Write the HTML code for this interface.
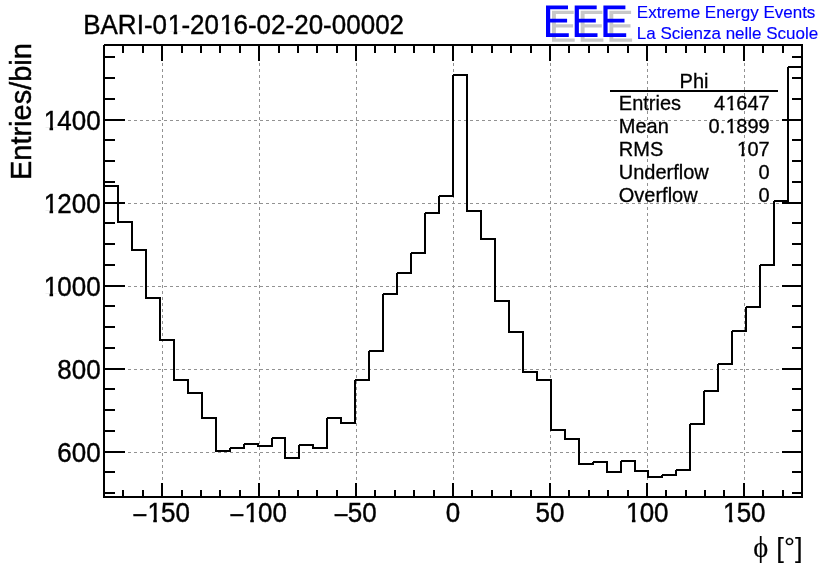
<!DOCTYPE html>
<html><head><meta charset="utf-8"><title>BARI-01-2016-02-20-00002</title>
<style>html,body{margin:0;padding:0;background:#fff;}body{width:836px;height:572px;overflow:hidden;}svg{display:block;will-change:transform;}text{font-family:"Liberation Sans",sans-serif;}.ser{font-family:"Liberation Serif",serif;}</style>
</head><body>
<svg width="836" height="572" viewBox="0 0 836 572">
<rect x="0" y="0" width="836" height="572" fill="#ffffff"/>
<g shape-rendering="crispEdges" stroke="#929292" stroke-width="1" stroke-dasharray="3,3" fill="none">
<line x1="162.5" y1="45" x2="162.5" y2="497"/>
<line x1="259.5" y1="45" x2="259.5" y2="497"/>
<line x1="356.5" y1="45" x2="356.5" y2="497"/>
<line x1="453.5" y1="45" x2="453.5" y2="497"/>
<line x1="550.5" y1="45" x2="550.5" y2="497"/>
<line x1="647.5" y1="45" x2="647.5" y2="497"/>
<line x1="744.5" y1="45" x2="744.5" y2="497"/>
<line x1="104" y1="452.5" x2="802" y2="452.5"/>
<line x1="104" y1="369.5" x2="802" y2="369.5"/>
<line x1="104" y1="286.5" x2="802" y2="286.5"/>
<line x1="104" y1="203.5" x2="802" y2="203.5"/>
<line x1="104" y1="120.5" x2="802" y2="120.5"/>
</g>
<path d="M104,497V186H118V222H132V250H146V298H160V340H174V380H188V393H202V418H216V451H230V448H244V444H258V446H272V438H285V458H299V445H313V448H327V418H341V423H355V380H369V351H383V294H397V273H411V253H425V213H439V196H453V75H467V211H481V239H495V301H509V332H523V372H537V380H551V430H565V439H579V464H593V462H607V472H621V461H635V471H648V477H662V475H676V470H690V424H704V391H718V364H732V331H746V307H760V265H774V201H788V67H802V497" fill="none" stroke="#000" stroke-width="2" stroke-linejoin="miter" shape-rendering="crispEdges"/>
<path d="M229,447h1v1h-1zM243,443h1v1h-1zM271,437h1v1h-1zM298,444h1v1h-1zM326,417h1v1h-1zM354,379h1v1h-1zM368,350h1v1h-1zM382,293h1v1h-1zM396,272h1v1h-1zM410,252h1v1h-1zM424,212h1v1h-1zM438,195h1v1h-1zM452,74h1v1h-1zM592,461h1v1h-1zM620,460h1v1h-1zM661,474h1v1h-1zM675,469h1v1h-1zM689,423h1v1h-1zM703,390h1v1h-1zM717,363h1v1h-1zM731,330h1v1h-1zM745,306h1v1h-1zM759,264h1v1h-1zM773,200h1v1h-1zM787,66h1v1h-1z" fill="#fff" shape-rendering="crispEdges"/>
<g shape-rendering="crispEdges" fill="#000">
<rect x="103" y="44" width="700" height="2"/>
<rect x="103" y="496" width="700" height="2"/>
<rect x="103" y="44" width="2" height="454"/>
<rect x="801" y="44" width="2" height="454"/>
<rect x="122" y="490" width="2" height="7"/>
<rect x="122" y="45" width="2" height="8"/>
<rect x="142" y="490" width="2" height="7"/>
<rect x="142" y="45" width="2" height="8"/>
<rect x="161" y="483" width="2" height="14"/>
<rect x="161" y="45" width="2" height="16"/>
<rect x="181" y="490" width="2" height="7"/>
<rect x="181" y="45" width="2" height="8"/>
<rect x="200" y="490" width="2" height="7"/>
<rect x="200" y="45" width="2" height="8"/>
<rect x="219" y="490" width="2" height="7"/>
<rect x="219" y="45" width="2" height="8"/>
<rect x="239" y="490" width="2" height="7"/>
<rect x="239" y="45" width="2" height="8"/>
<rect x="258" y="483" width="2" height="14"/>
<rect x="258" y="45" width="2" height="16"/>
<rect x="278" y="490" width="2" height="7"/>
<rect x="278" y="45" width="2" height="8"/>
<rect x="297" y="490" width="2" height="7"/>
<rect x="297" y="45" width="2" height="8"/>
<rect x="316" y="490" width="2" height="7"/>
<rect x="316" y="45" width="2" height="8"/>
<rect x="336" y="490" width="2" height="7"/>
<rect x="336" y="45" width="2" height="8"/>
<rect x="355" y="483" width="2" height="14"/>
<rect x="355" y="45" width="2" height="16"/>
<rect x="374" y="490" width="2" height="7"/>
<rect x="374" y="45" width="2" height="8"/>
<rect x="394" y="490" width="2" height="7"/>
<rect x="394" y="45" width="2" height="8"/>
<rect x="413" y="490" width="2" height="7"/>
<rect x="413" y="45" width="2" height="8"/>
<rect x="433" y="490" width="2" height="7"/>
<rect x="433" y="45" width="2" height="8"/>
<rect x="452" y="483" width="2" height="14"/>
<rect x="452" y="45" width="2" height="16"/>
<rect x="471" y="490" width="2" height="7"/>
<rect x="471" y="45" width="2" height="8"/>
<rect x="491" y="490" width="2" height="7"/>
<rect x="491" y="45" width="2" height="8"/>
<rect x="510" y="490" width="2" height="7"/>
<rect x="510" y="45" width="2" height="8"/>
<rect x="530" y="490" width="2" height="7"/>
<rect x="530" y="45" width="2" height="8"/>
<rect x="549" y="483" width="2" height="14"/>
<rect x="549" y="45" width="2" height="16"/>
<rect x="568" y="490" width="2" height="7"/>
<rect x="568" y="45" width="2" height="8"/>
<rect x="588" y="490" width="2" height="7"/>
<rect x="588" y="45" width="2" height="8"/>
<rect x="607" y="490" width="2" height="7"/>
<rect x="607" y="45" width="2" height="8"/>
<rect x="627" y="490" width="2" height="7"/>
<rect x="627" y="45" width="2" height="8"/>
<rect x="646" y="483" width="2" height="14"/>
<rect x="646" y="45" width="2" height="16"/>
<rect x="665" y="490" width="2" height="7"/>
<rect x="665" y="45" width="2" height="8"/>
<rect x="685" y="490" width="2" height="7"/>
<rect x="685" y="45" width="2" height="8"/>
<rect x="704" y="490" width="2" height="7"/>
<rect x="704" y="45" width="2" height="8"/>
<rect x="723" y="490" width="2" height="7"/>
<rect x="723" y="45" width="2" height="8"/>
<rect x="743" y="483" width="2" height="14"/>
<rect x="743" y="45" width="2" height="16"/>
<rect x="762" y="490" width="2" height="7"/>
<rect x="762" y="45" width="2" height="8"/>
<rect x="782" y="490" width="2" height="7"/>
<rect x="782" y="45" width="2" height="8"/>
<rect x="104" y="492" width="11" height="2"/>
<rect x="792" y="492" width="10" height="2"/>
<rect x="104" y="471" width="11" height="2"/>
<rect x="792" y="471" width="10" height="2"/>
<rect x="104" y="451" width="21" height="2"/>
<rect x="782" y="451" width="20" height="2"/>
<rect x="104" y="430" width="11" height="2"/>
<rect x="792" y="430" width="10" height="2"/>
<rect x="104" y="409" width="11" height="2"/>
<rect x="792" y="409" width="10" height="2"/>
<rect x="104" y="388" width="11" height="2"/>
<rect x="792" y="388" width="10" height="2"/>
<rect x="104" y="368" width="21" height="2"/>
<rect x="782" y="368" width="20" height="2"/>
<rect x="104" y="347" width="11" height="2"/>
<rect x="792" y="347" width="10" height="2"/>
<rect x="104" y="326" width="11" height="2"/>
<rect x="792" y="326" width="10" height="2"/>
<rect x="104" y="305" width="11" height="2"/>
<rect x="792" y="305" width="10" height="2"/>
<rect x="104" y="285" width="21" height="2"/>
<rect x="782" y="285" width="20" height="2"/>
<rect x="104" y="264" width="11" height="2"/>
<rect x="792" y="264" width="10" height="2"/>
<rect x="104" y="243" width="11" height="2"/>
<rect x="792" y="243" width="10" height="2"/>
<rect x="104" y="222" width="11" height="2"/>
<rect x="792" y="222" width="10" height="2"/>
<rect x="104" y="202" width="21" height="2"/>
<rect x="782" y="202" width="20" height="2"/>
<rect x="104" y="181" width="11" height="2"/>
<rect x="792" y="181" width="10" height="2"/>
<rect x="104" y="160" width="11" height="2"/>
<rect x="792" y="160" width="10" height="2"/>
<rect x="104" y="139" width="11" height="2"/>
<rect x="792" y="139" width="10" height="2"/>
<rect x="104" y="119" width="21" height="2"/>
<rect x="782" y="119" width="20" height="2"/>
<rect x="104" y="98" width="11" height="2"/>
<rect x="792" y="98" width="10" height="2"/>
<rect x="104" y="77" width="11" height="2"/>
<rect x="792" y="77" width="10" height="2"/>
<rect x="104" y="56" width="11" height="2"/>
<rect x="792" y="56" width="10" height="2"/>
</g>
<rect x="103" y="44" width="1" height="1" fill="#fff" shape-rendering="crispEdges"/>
<g transform="translate(100.7,462.4) scale(1,1.035)" font-size="26" fill="#000" stroke="#000" stroke-width="0.39">
<text x="-43.38 -28.92 -14.46" y="0.00 0.00 0.00">600</text>
</g>
<g transform="translate(100.7,379.4) scale(1,1.035)" font-size="26" fill="#000" stroke="#000" stroke-width="0.39">
<text x="-43.38 -28.92 -14.46" y="0.00 0.00 0.00">800</text>
</g>
<g transform="translate(100.7,296.4) scale(1,1.035)" font-size="26" fill="#000" stroke="#000" stroke-width="0.39">
<text x="-43.38 -28.92 -14.46" y="0.00 0.00 0.00">000</text>
<g transform="translate(-57.06,0.00)"><text clip-path="url(#c26)">1</text></g>
</g>
<g transform="translate(100.7,213.4) scale(1,1.035)" font-size="26" fill="#000" stroke="#000" stroke-width="0.39">
<text x="-43.38 -28.92 -14.46" y="0.00 0.00 0.00">200</text>
<g transform="translate(-57.06,0.00)"><text clip-path="url(#c26)">1</text></g>
</g>
<g transform="translate(100.7,130.4) scale(1,1.035)" font-size="26" fill="#000" stroke="#000" stroke-width="0.39">
<text x="-43.38 -28.92 -14.46" y="0.00 0.00 0.00">400</text>
<g transform="translate(-57.06,0.00)"><text clip-path="url(#c26)">1</text></g>
</g>
<g transform="translate(161.5,522.3) scale(1,1.035)" font-size="26" fill="#000" stroke="#000" stroke-width="0.39">
<text x="-28.98 -0.44 14.02" y="2.00 0.00 0.00">−50</text>
<g transform="translate(-14.12,0.00)"><text clip-path="url(#c26)">1</text></g>
</g>
<g transform="translate(258.5,522.3) scale(1,1.035)" font-size="26" fill="#000" stroke="#000" stroke-width="0.39">
<text x="-28.98 -0.44 14.02" y="2.00 0.00 0.00">−00</text>
<g transform="translate(-14.12,0.00)"><text clip-path="url(#c26)">1</text></g>
</g>
<g transform="translate(355.5,522.3) scale(1,1.035)" font-size="26" fill="#000" stroke="#000" stroke-width="0.39">
<text x="-21.75 -7.67 6.79" y="2.00 0.00 0.00">−50</text>
</g>
<g transform="translate(452.9,522.3) scale(1,1.035)" font-size="26" fill="#000" stroke="#000" stroke-width="0.39">
<text x="-7.23" y="0.00">0</text>
</g>
<g transform="translate(549.9,522.3) scale(1,1.035)" font-size="26" fill="#000" stroke="#000" stroke-width="0.39">
<text x="-14.46 0.00" y="0.00 0.00">50</text>
</g>
<g transform="translate(646.9,522.3) scale(1,1.035)" font-size="26" fill="#000" stroke="#000" stroke-width="0.39">
<text x="-7.23 7.23" y="0.00 0.00">00</text>
<g transform="translate(-20.91,0.00)"><text clip-path="url(#c26)">1</text></g>
</g>
<g transform="translate(743.9,522.3) scale(1,1.035)" font-size="26" fill="#000" stroke="#000" stroke-width="0.39">
<text x="-7.23 7.23" y="0.00 0.00">50</text>
<g transform="translate(-20.91,0.00)"><text clip-path="url(#c26)">1</text></g>
</g>
<g transform="translate(83.2,34.4) scale(1,1.035)" font-size="26" fill="#000" stroke="#000" stroke-width="0.39">
<text x="0.00 17.34 34.68 53.46 60.68 69.34 98.26 106.92 121.38 150.30 164.76 173.42 187.88 202.34 211.00 225.46 239.92 248.57 263.03 277.49 291.95 306.41" y="0.00 0.00 0.00 0.00 0.00 0.00 0.00 0.00 0.00 0.00 0.00 0.00 0.00 0.00 0.00 0.00 0.00 0.00 0.00 0.00 0.00 0.00">BARI-0-206-02-20-00002</text>
<g transform="translate(84.58,0.00)"><text clip-path="url(#c26)">1</text></g>
<g transform="translate(136.62,0.00)"><text clip-path="url(#c26)">1</text></g>
</g>
<text transform="translate(31,43.1) rotate(-90) scale(1,1.035)" font-size="29" fill="#000" text-anchor="end" stroke="#000" stroke-width="0.43">Entries/bin</text>
<text transform="translate(753.3,557.1) scale(1,1.035)" font-size="28.5" fill="#000" class="ser" stroke="#000" stroke-width="0.2">ϕ</text>
<text transform="translate(802.6,557.0) scale(1,1)" font-size="27.5" fill="#000" text-anchor="end" stroke="#000" stroke-width="0.1">[°]</text>
<path d="M552,10.8h21.7v3.3h-17.80V24.20h17.20v3.3h-17.20V38.40h18.80v3.3h-22.7zM580.7,10.8h21.7v3.3h-17.80V24.20h17.20v3.3h-17.20V38.40h18.80v3.3h-22.7zM609.4,10.8h21.7v3.3h-17.80V24.20h17.20v3.3h-17.20V38.40h18.80v3.3h-22.7z" fill="#c8c8c8"/>
<path d="M546,5.5h22.0v3.7h-17.80V18.80h16.90v3.7h-16.90V33.20h18.60v3.7h-22.8zM574.7,5.5h22.0v3.7h-17.80V18.80h16.90v3.7h-16.90V33.20h18.60v3.7h-22.8zM603.4,5.5h22.0v3.7h-17.80V18.80h16.90v3.7h-16.90V33.20h18.60v3.7h-22.8z" fill="#0000ff"/>
<text transform="translate(636.8,17.7) scale(1,1)" font-size="17" fill="#0000ff" stroke="#0000ff" stroke-width="0.15">Extreme Energy Events</text>
<text transform="translate(636.8,38.6) scale(1,1)" font-size="17" fill="#0000ff" stroke="#0000ff" stroke-width="0.15">La Scienza nelle Scuole</text>
<rect x="610" y="90" width="168" height="2" fill="#000" shape-rendering="crispEdges"/>
<text transform="translate(694,87.8) scale(1,1.035)" font-size="20" fill="#000" text-anchor="middle" stroke="#000" stroke-width="0.3">Phi</text>
<text transform="translate(618.8,109.6) scale(1,1.035)" font-size="20" fill="#000" stroke="#000" stroke-width="0.3">Entries</text>
<g transform="translate(769.7,109.6) scale(1,1.035)" font-size="20" fill="#000" stroke="#000" stroke-width="0.3">
<text x="-55.62 -33.37 -22.25 -11.12" y="0.00 0.00 0.00 0.00">4647</text>
<g transform="translate(-43.89,0.00)"><text clip-path="url(#c20)">1</text></g>
</g>
<text transform="translate(618.8,132.7) scale(1,1.035)" font-size="20" fill="#000" stroke="#000" stroke-width="0.3">Mean</text>
<g transform="translate(769.7,132.7) scale(1,1.035)" font-size="20" fill="#000" stroke="#000" stroke-width="0.3">
<text x="-61.17 -50.05 -33.37 -22.25 -11.12" y="0.00 0.00 0.00 0.00 0.00">0.899</text>
<g transform="translate(-43.89,0.00)"><text clip-path="url(#c20)">1</text></g>
</g>
<text transform="translate(618.8,155.8) scale(1,1.035)" font-size="20" fill="#000" stroke="#000" stroke-width="0.3">RMS</text>
<g transform="translate(769.7,155.8) scale(1,1.035)" font-size="20" fill="#000" stroke="#000" stroke-width="0.3">
<text x="-22.25 -11.12" y="0.00 0.00">07</text>
<g transform="translate(-32.77,0.00)"><text clip-path="url(#c20)">1</text></g>
</g>
<text transform="translate(618.8,178.9) scale(1,1.035)" font-size="20" fill="#000" stroke="#000" stroke-width="0.3">Underflow</text>
<g transform="translate(769.7,178.9) scale(1,1.035)" font-size="20" fill="#000" stroke="#000" stroke-width="0.3">
<text x="-11.12" y="0.00">0</text>
</g>
<text transform="translate(618.8,202.0) scale(1,1.035)" font-size="20" fill="#000" stroke="#000" stroke-width="0.3">Overflow</text>
<g transform="translate(769.7,202.0) scale(1,1.035)" font-size="20" fill="#000" stroke="#000" stroke-width="0.3">
<text x="-11.12" y="0.00">0</text>
</g>
<defs>
<clipPath id="c20"><path d="M-2,-20.00H20V-2.69H7.40V2H4.43V-2.69H-2Z"/></clipPath>
<clipPath id="c26"><path d="M-2,-26.00H26V-3.14H9.44V2H5.94V-3.14H-2Z"/></clipPath>
</defs>
</svg>
</body></html>
